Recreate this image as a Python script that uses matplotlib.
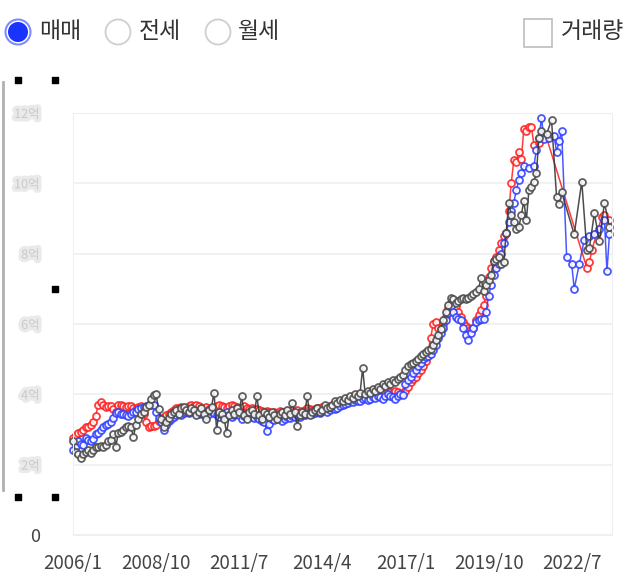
import numpy as np
import matplotlib.pyplot as plt
import matplotlib.patheffects as pe
from matplotlib.patches import Circle, Rectangle

plt.rcParams['font.family'] = ['Noto Sans CJK KR', 'DejaVu Sans']

# month index 0 = 2006/1
tick_months = [0, 33, 66, 99, 132, 165, 198]
tick_labels = ['2006/1', '2008/10', '2011/7', '2014/4', '2017/1', '2019/10', '2022/7']
y_ticks = [0, 2, 4, 6, 8, 10, 12]
y_labels = ['0', '2억', '4억', '6억', '8억', '10억', '12억']

# red series (monthly 2006/1 - 2020/12, then sparse)
red_2006_2008 = [2.77, 2.83, 2.91, 2.94, 3.0, 3.06, 3.06, 3.14, 3.2, 3.37, 3.71, 3.77,
                 3.69, 3.63, 3.66, 3.66, 3.57, 3.51, 3.69, 3.71, 3.66, 3.63, 3.66, 3.66,
                 3.6, 3.57, 3.63, 3.66, 3.43, 3.2, 3.06, 3.09, 3.09, 3.14, 3.23, 3.29]
red_2009_2016 = [3.35, 3.4, 3.45, 3.5, 3.55, 3.6, 3.62, 3.65, 3.6, 3.62, 3.66, 3.7,
                 3.68, 3.7, 3.66, 3.62, 3.6, 3.64, 3.58, 3.6, 3.62, 3.66, 3.7, 3.68,
                 3.65, 3.62, 3.66, 3.7, 3.68, 3.64, 3.6, 3.62, 3.66, 3.62, 3.58, 3.6,
                 3.56, 3.58, 3.55, 3.52, 3.5, 3.54, 3.5, 3.46, 3.5, 3.48, 3.52, 3.5,
                 3.48, 3.5, 3.54, 3.56, 3.52, 3.55, 3.5, 3.53, 3.56, 3.6, 3.58, 3.55,
                 3.58, 3.6, 3.62, 3.65, 3.6, 3.64, 3.68, 3.66, 3.7, 3.72, 3.75, 3.78,
                 3.8, 3.82, 3.85, 3.9, 3.95, 3.92, 3.95, 3.98, 3.95, 4.0, 4.02, 3.98,
                 4.0, 4.05, 4.02, 4.0, 4.05, 4.1, 4.08, 4.05, 4.1, 4.06, 4.02, 4.05]
red_2017_2020 = [4.1, 4.2, 4.35, 4.45, 4.5, 4.6, 4.7, 4.8, 4.95, 5.2, 5.6, 6.0,
                 6.05, 5.9, 5.85, 6.0, 6.2, 6.45, 6.6, 6.65, 6.5, 6.35, 6.2, 6.05,
                 5.95, 5.9, 5.85, 5.9, 6.1, 6.25, 6.4, 6.55, 6.8, 7.35, 7.6, 7.8,
                 7.9, 8.1, 8.3, 8.5, 8.6, 9.2, 10.0, 10.65, 10.6, 10.9, 10.7, 11.55]
red_late_months = [180, 181, 182, 183, 185, 187, 188, 204, 205, 206, 208, 210, 211, 213]
red_late = [11.5, 11.6, 11.6, 11.1, 11.15, 11.35, 11.3, 7.6, 7.75, 8.1, 8.6, 9.05, 9.1, 8.95]

# blue series
blue_2006_2009 = [2.43, 2.54, 2.66, 2.6, 2.57, 2.77, 2.71, 2.66, 2.74, 2.86, 2.91, 3.0,
                  3.06, 3.14, 3.17, 3.2, 3.34, 3.46, 3.49, 3.43, 3.43, 3.4, 3.37, 3.43,
                  3.49, 3.51, 3.57, 3.6, 3.63, 3.66, 3.69, 3.71, 3.71, 3.51, 3.34, 3.2,
                  3.0, 3.14, 3.23, 3.3, 3.35, 3.4, 3.45, 3.42, 3.48, 3.5, 3.46, 3.5]
blue_2010_2016 = [3.52, 3.48, 3.45, 3.5, 3.42, 3.38, 3.45, 3.5, 3.46, 3.4, 3.35, 3.42,
                  3.45, 3.5, 3.4, 3.35, 3.42, 3.46, 3.4, 3.3, 3.38, 3.45, 3.4, 3.36,
                  3.32, 3.35, 3.3, 3.25, 3.2, 2.95, 3.15, 3.3, 3.28, 3.35, 3.3, 3.25,
                  3.3, 3.35, 3.32, 3.38, 3.35, 3.4, 3.36, 3.42, 3.4, 3.45, 3.48, 3.44,
                  3.48, 3.5, 3.46, 3.52, 3.55, 3.5, 3.56, 3.6, 3.58, 3.62, 3.66, 3.7,
                  3.72, 3.75, 3.8, 3.78, 3.85, 3.82, 3.8, 3.86, 3.9, 3.85, 3.88, 3.92,
                  3.9, 3.95, 3.92, 3.88, 3.95, 4.0, 3.96, 3.92, 3.88, 3.95, 4.0, 3.98]
blue_2017_2020 = [4.3, 4.4, 4.5, 4.6, 4.7, 4.8, 4.9, 5.0, 5.05, 5.1, 5.15, 5.25,
                  5.4, 5.6, 5.75, 5.9, 6.1, 6.3, 6.5, 6.35, 6.2, 6.15, 6.1, 5.9,
                  5.7, 5.55, 5.75, 5.9, 6.05, 6.1, 6.15, 6.15, 6.35, 6.8, 7.1, 7.4,
                  7.6, 7.7, 8.0, 8.3, 8.6, 8.9, 9.2, 9.45, 9.8, 10.1, 10.3, 10.5]
blue_late_months = [181, 183, 184, 185, 186, 187, 189, 191, 192, 193, 194, 196, 198,
                    199, 201, 203, 205, 207, 209, 211, 212, 213]
blue_late = [10.45, 10.5, 10.95, 11.3, 11.85, 11.25, 11.3, 11.35, 10.9, 11.2, 11.5, 7.9,
             7.7, 7.0, 7.7, 8.4, 8.5, 8.55, 8.7, 8.95, 7.5, 8.55]

# black series
black_2006_2008 = [2.66, 2.37, 2.29, 2.2, 2.29, 2.37, 2.43, 2.34, 2.43, 2.51, 2.49, 2.54,
                   2.49, 2.57, 2.66, 2.71, 2.86, 2.51, 2.91, 2.94, 3.0, 3.06, 3.09, 3.06,
                   2.8, 3.14, 3.29, 3.43, 3.49, 3.63, 3.71, 3.86, 3.97, 4.0, 3.57, 3.29]
black_2009_2016 = [3.06, 3.2, 3.34, 3.43, 3.5, 3.55, 3.45, 3.6, 3.65, 3.55, 3.5, 3.6,
                   3.55, 3.4, 3.5, 3.6, 3.45, 3.3, 3.55, 3.65, 4.05, 3.0, 3.5, 3.45,
                   3.3, 2.9, 3.4, 3.55, 3.45, 3.6, 3.5, 3.95, 3.4, 3.3, 3.5, 3.55,
                   3.45, 3.95, 3.4, 3.3, 3.5, 3.45, 3.35, 3.5, 3.4, 3.3, 3.45, 3.5,
                   3.4, 3.55, 3.45, 3.75, 3.5, 3.1, 3.4, 3.5, 3.45, 3.95, 3.4, 3.5,
                   3.55, 3.6, 3.5, 3.55, 3.7, 3.6, 3.65, 3.7, 3.8, 3.75, 3.85, 3.8,
                   3.9, 3.85, 3.95, 3.9, 4.0, 3.95, 4.05, 4.75, 4.0, 4.1, 4.05, 4.15,
                   4.1, 4.2, 4.15, 4.3, 4.25, 4.35, 4.3, 4.4, 4.35, 4.45, 4.5, 4.55]
black_2017_2020 = [4.7, 4.8, 4.85, 4.9, 4.95, 5.0, 5.1, 5.15, 5.2, 5.25, 5.3, 5.4,
                   5.55, 5.7, 5.85, 6.1, 6.35, 6.55, 6.75, 6.7, 6.6, 6.65, 6.7, 6.75,
                   6.7, 6.75, 6.8, 6.85, 6.9, 7.0, 7.3, 6.95, 7.1, 7.25, 7.4, 7.8,
                   7.85, 7.9, 7.7, 7.75, 8.6, 9.45, 9.1, 8.9, 8.7, 8.75, 9.1, 9.5]
black_late_months = [180, 181, 182, 183, 184, 185, 186, 188, 190, 192, 193, 194, 199,
                     202, 204, 205, 207, 209, 211, 213]
black_late = [8.95, 9.8, 9.9, 10.05, 10.3, 11.3, 11.5, 11.4, 11.8, 9.6, 9.4, 9.75, 8.55,
              10.05, 8.1, 8.15, 9.15, 8.35, 9.45, 8.75]

red_m = list(range(180)) + red_late_months
red_v = red_2006_2008 + red_2009_2016 + red_2017_2020 + red_late
blue_m = list(range(180)) + blue_late_months
blue_v = blue_2006_2009 + blue_2010_2016 + blue_2017_2020 + blue_late
black_m = list(range(180)) + black_late_months
black_v = black_2006_2008 + black_2009_2016 + black_2017_2020 + black_late

fig = plt.figure(figsize=(6.44, 5.86), dpi=100)
ax = fig.add_axes([73/644, 1-535/586, 539/644, 422/586])

series = [(red_m, red_v, '#ff2020', '#ff2020'),
          (blue_m, blue_v, '#3040ff', '#3040ff'),
          (black_m, black_v, '#333333', '#4a4a4a')]
for m, v, c, ec in series:
    ax.plot(m, v, color=c, lw=1.1, marker='o', markersize=5.0, markerfacecolor='white',
            markeredgecolor=ec, markeredgewidth=1.3, clip_on=False, alpha=0.88)

ax.set_xlim(0, 214)
ax.set_ylim(0, 12)
ax.set_yticks(y_ticks)
ax.set_yticklabels(y_labels)
ax.set_xticks(tick_months)
ax.set_xticklabels(tick_labels)
ax.grid(axis='y', color='#efefef', lw=1.2)
ax.set_axisbelow(True)
for s in ax.spines.values():
    s.set_color('#efefef')
ax.tick_params(length=0)
ax.tick_params(axis='x', labelsize=13.5, colors='#444444', pad=13)
ax.tick_params(axis='y', labelsize=13, pad=24)
for i, t in enumerate(ax.get_yticklabels()):
    if i == 0:
        t.set_color('#444444')
    else:
        t.set_color('#cccccc')
        t.set_fontsize(9)
        t.set_path_effects([pe.withStroke(linewidth=5, foreground='#e2e2e2', alpha=0.7)])

# header and screenshot decorations, in pixel coords
ov = fig.add_axes([0, 0, 1, 1], zorder=5)
ov.set_xlim(0, 644)
ov.set_ylim(586, 0)
ov.axis('off')

ov.add_patch(Circle((18, 32), 12.5, facecolor='white', edgecolor='#7f8cff', lw=1.5))
ov.add_patch(Circle((18, 32), 10, facecolor='#1a33ff', edgecolor='none'))
ov.add_patch(Circle((118, 32), 12.5, facecolor='white', edgecolor='#cfcfcf', lw=1.3))
ov.add_patch(Circle((218, 32), 12.5, facecolor='white', edgecolor='#cfcfcf', lw=1.3))
ov.add_patch(Rectangle((524, 19), 28, 28, facecolor='white', edgecolor='#bdbdbd', lw=1.2))
hdr = dict(fontsize=16.5, color='#333333', va='center', ha='left', fontweight='medium')
ov.text(39, 31, '매매', **hdr)
ov.text(139, 31, '전세', **hdr)
ov.text(238, 31, '월세', **hdr)
ov.text(561, 31, '거래량', **hdr)

ov.plot([3, 3], [82, 490], color='#b0b0b0', lw=2)
hx = [18, 55, 55, 18, 55]
hy = [80, 80, 289, 497, 497]
ov.scatter(hx, hy, marker='s', s=22, color='black')

fig.savefig('out.png', dpi=100)
